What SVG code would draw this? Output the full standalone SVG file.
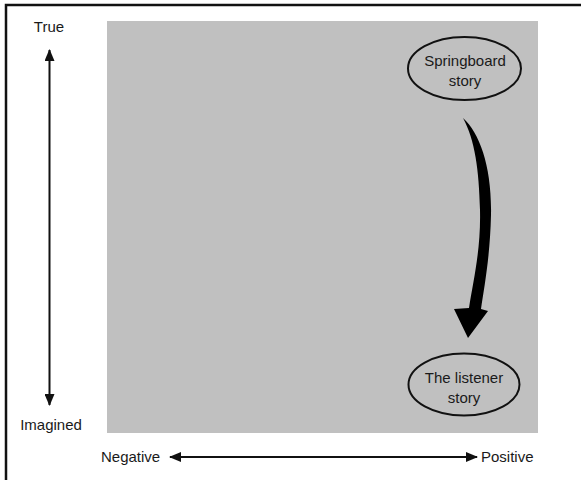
<svg xmlns="http://www.w3.org/2000/svg" width="581" height="480" viewBox="0 0 581 480">
  <style>
    .lbl { font-family: "Liberation Sans", Arial, sans-serif; font-size: 15px; fill: #1a1a1a; }
    .node { fill: none; stroke: #111; stroke-width: 2; }
    .axis { stroke: #111; stroke-width: 2; fill: none; }
  </style>
  <defs>
    <marker id="head" viewBox="0 0 12 10" refX="11" refY="5" markerWidth="12" markerHeight="10" markerUnits="userSpaceOnUse" orient="auto-start-reverse">
      <path d="M0,0 L12,5 L0,10 Z" fill="#111"/>
    </marker>
  </defs>

  <rect width="581" height="480" fill="#fff"/>
  <!-- frame -->
  <path d="M6,481 L6,5 L582,5" fill="none" stroke="#111" stroke-width="2.5"/>

  <!-- plotting field -->
  <rect x="107" y="21" width="431" height="412" fill="#c0c0c0"/>

  <!-- axes -->
  <g id="axes">
    <line class="axis" x1="49.5" y1="405" x2="49.5" y2="50" marker-start="url(#head)" marker-end="url(#head)"/>
    <line class="axis" x1="170" y1="457" x2="477" y2="457" marker-start="url(#head)" marker-end="url(#head)"/>
    <text class="lbl" x="49" y="32" text-anchor="middle">True</text>
    <text class="lbl" x="51" y="430" text-anchor="middle">Imagined</text>
    <text class="lbl" x="101" y="462">Negative</text>
    <text class="lbl" x="481" y="462">Positive</text>
  </g>

  <g id="springboard">
    <ellipse class="node" cx="464.5" cy="68.5" rx="56.5" ry="31.5"/>
    <text class="lbl" x="465" y="66" text-anchor="middle">Springboard</text>
    <text class="lbl" x="465" y="86" text-anchor="middle">story</text>
  </g>

  <g id="listener">
    <ellipse class="node" cx="464" cy="384.5" rx="55.5" ry="31"/>
    <text class="lbl" x="464" y="383" text-anchor="middle">The listener</text>
    <text class="lbl" x="464" y="403" text-anchor="middle">story</text>
  </g>

  <!-- connector -->
  <g id="connectors">
    <path d="M463,118 C480,133 492,168 491,215 C490,258 484,288 481,309 L488,311 L468,338 L454,309 L469,308 C473,282 481,250 480,210 C479,170 475,140 463,118 Z" fill="#000"/>
  </g>
</svg>
